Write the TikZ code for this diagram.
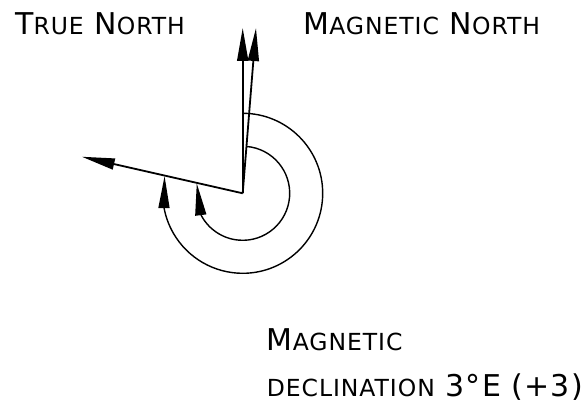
\documentclass[tikz,border=0pt]{standalone}
\usepackage{fontspec}
\setmainfont{DejaVu Sans}[LetterSpace=4]
\usepackage{tikz}
\usetikzlibrary{arrows.meta,bending,calc}
\newcommand{\capsz}{\fontsize{30}{30}\selectfont}
\newcommand{\smc}[1]{{\fontsize{23.5}{23.5}\selectfont #1}}
\tikzset{
  lab/.style={font=\capsz,inner sep=0pt,anchor=base west},
  needle/.style={-{Triangle[length=33pt,width=11pt]},line width=1.8pt},
  sweep/.style={-{Triangle[length=32pt,width=11pt]},line width=1.4pt}
}

\begin{document}
\begin{tikzpicture}[x=1pt,y=1pt]
  \useasboundingbox (0,0) rectangle (587,405);
  % origin and tips
  \coordinate (o) at (242.7,211.7);
  \coordinate (tn) at ($(o)+(90:165.3)$);
  \coordinate (mn) at ($(o)+(85.4:165.8)$);
  \coordinate (west) at ($(o)+(167.2:165)$);
  \draw[needle] (o) -- (tn);
  \draw[needle] (o) -- (mn);
  \draw[needle] (o) -- (west);
  % angle arcs
  \coordinate (outer) at ($(o)+(90:80)$);
  \coordinate (inner) at ($(o)+(85.4:47)$);
  \draw[sweep] (outer) arc[start angle=90,end angle=-192.4,radius=80];
  \draw[sweep] (inner) arc[start angle=85.4,end angle=-192.2,radius=47];
  % labels
  \node[lab] (truelab) at (15,370) {T\smc{RUE} N\smc{ORTH}};
  \node[lab] (maglab) at (303.3,370) {M\smc{AGNETIC} N\smc{ORTH}};
  \node[lab] (decl1) at (266.7,55) {M\smc{AGNETIC}};
  \node[lab] (decl2) at (266.7,8.3) {\smc{DECLINATION} 3°E (+3)};
\end{tikzpicture}
\end{document}
